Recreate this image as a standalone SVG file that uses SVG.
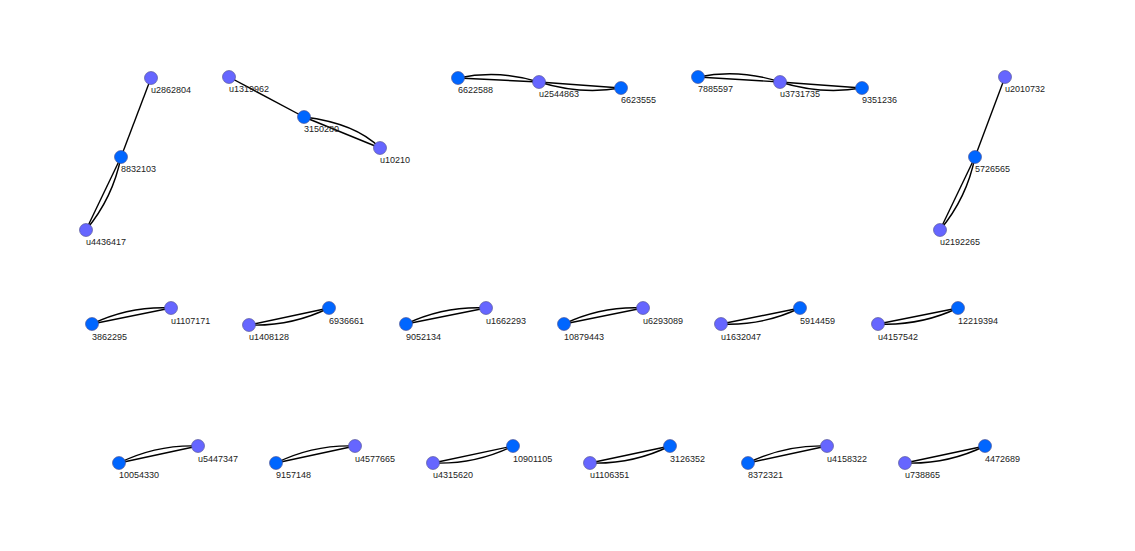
<svg xmlns="http://www.w3.org/2000/svg" width="1135" height="551" viewBox="0 0 1135 551">
<style>
.e{fill:none;stroke:#000;stroke-width:1.4}
.n{fill:#0066ff;stroke:#4a4a8a;stroke-width:0.6}
.u{fill:#6666ff;stroke:#4a4a8a;stroke-width:0.6}
text{font-family:"Liberation Sans",Arial,sans-serif;font-size:9px;fill:#222}
</style>
<rect width="1135" height="551" fill="#fff"/>
<g id="connectors">
<path class="e" d="M151,78 L121,157"/>
<path class="e" d="M121,157 L86,230"/>
<path class="e" d="M121,157 Q112.9,197.8 86,230"/>
<path class="e" d="M229,77 L304,117"/>
<path class="e" d="M304,117 L380,148"/>
<path class="e" d="M304,117 Q355.8,123.3 380,148"/>
<path class="e" d="M458,78 L539,82"/>
<path class="e" d="M458,78 Q499,69.5 539,82"/>
<path class="e" d="M539,82 L621,88"/>
<path class="e" d="M539,82 Q580.3,95 621,88"/>
<path class="e" d="M698,77 L780,82"/>
<path class="e" d="M698,77 Q739,68.5 780,82"/>
<path class="e" d="M780,82 L862,88"/>
<path class="e" d="M780,82 Q821.3,95 862,88"/>
<path class="e" d="M1005,77 L975,157"/>
<path class="e" d="M975,157 L940,230"/>
<path class="e" d="M975,157 Q966.9,197.8 940,230"/>
<path class="e" d="M92,324 L171,308"/>
<path class="e" d="M92,324 Q129.5,306 171,308"/>
<path class="e" d="M249,325 L329,308"/>
<path class="e" d="M329,308 Q291,326.5 249,325"/>
<path class="e" d="M406,324 L486,308"/>
<path class="e" d="M406,324 Q444,306 486,308"/>
<path class="e" d="M564,324 L643,308"/>
<path class="e" d="M564,324 Q601.5,306 643,308"/>
<path class="e" d="M721,324 L800,308"/>
<path class="e" d="M800,308 Q762.5,326 721,324"/>
<path class="e" d="M878,324 L958,308"/>
<path class="e" d="M958,308 Q920,326 878,324"/>
<path class="e" d="M119,463 L198,446"/>
<path class="e" d="M119,463 Q156.5,444.5 198,446"/>
<path class="e" d="M276,463 L355,446"/>
<path class="e" d="M276,463 Q313.5,444.5 355,446"/>
<path class="e" d="M433,463 L513,446"/>
<path class="e" d="M513,446 Q475,464.5 433,463"/>
<path class="e" d="M590,463 L670,446"/>
<path class="e" d="M670,446 Q632,464.5 590,463"/>
<path class="e" d="M748,463 L827,446"/>
<path class="e" d="M748,463 Q785.5,444.5 827,446"/>
<path class="e" d="M905,463 L985,446"/>
<path class="e" d="M985,446 Q947,464.5 905,463"/>
</g>
<g id="node-u2862804"><circle class="u" cx="151" cy="78" r="6.5"/><text x="151" y="93">u2862804</text></g>
<g id="node-8832103"><circle class="n" cx="121" cy="157" r="6.5"/><text x="121" y="172">8832103</text></g>
<g id="node-u4436417"><circle class="u" cx="86" cy="230" r="6.5"/><text x="86" y="245">u4436417</text></g>
<g id="node-u1319962"><circle class="u" cx="229" cy="77" r="6.5"/><text x="229" y="92">u1319962</text></g>
<g id="node-3150280"><circle class="n" cx="304" cy="117" r="6.5"/><text x="304" y="132">3150280</text></g>
<g id="node-u10210"><circle class="u" cx="380" cy="148" r="6.5"/><text x="380" y="163">u10210</text></g>
<g id="node-6622588"><circle class="n" cx="458" cy="78" r="6.5"/><text x="458" y="93">6622588</text></g>
<g id="node-u2544863"><circle class="u" cx="539" cy="82" r="6.5"/><text x="539" y="97">u2544863</text></g>
<g id="node-6623555"><circle class="n" cx="621" cy="88" r="6.5"/><text x="621" y="103">6623555</text></g>
<g id="node-7885597"><circle class="n" cx="698" cy="77" r="6.5"/><text x="698" y="92">7885597</text></g>
<g id="node-u3731735"><circle class="u" cx="780" cy="82" r="6.5"/><text x="780" y="97">u3731735</text></g>
<g id="node-9351236"><circle class="n" cx="862" cy="88" r="6.5"/><text x="862" y="103">9351236</text></g>
<g id="node-u2010732"><circle class="u" cx="1005" cy="77" r="6.5"/><text x="1005" y="92">u2010732</text></g>
<g id="node-5726565"><circle class="n" cx="975" cy="157" r="6.5"/><text x="975" y="172">5726565</text></g>
<g id="node-u2192265"><circle class="u" cx="940" cy="230" r="6.5"/><text x="940" y="245">u2192265</text></g>
<g id="node-3862295"><circle class="n" cx="92" cy="324" r="6.5"/><text x="92" y="340">3862295</text></g>
<g id="node-u1107171"><circle class="u" cx="171" cy="308" r="6.5"/><text x="171" y="324">u1107171</text></g>
<g id="node-u1408128"><circle class="u" cx="249" cy="325" r="6.5"/><text x="249" y="340">u1408128</text></g>
<g id="node-6936661"><circle class="n" cx="329" cy="308" r="6.5"/><text x="329" y="324">6936661</text></g>
<g id="node-9052134"><circle class="n" cx="406" cy="324" r="6.5"/><text x="406" y="340">9052134</text></g>
<g id="node-u1662293"><circle class="u" cx="486" cy="308" r="6.5"/><text x="486" y="324">u1662293</text></g>
<g id="node-10879443"><circle class="n" cx="564" cy="324" r="6.5"/><text x="564" y="340">10879443</text></g>
<g id="node-u6293089"><circle class="u" cx="643" cy="308" r="6.5"/><text x="643" y="324">u6293089</text></g>
<g id="node-u1632047"><circle class="u" cx="721" cy="324" r="6.5"/><text x="721" y="340">u1632047</text></g>
<g id="node-5914459"><circle class="n" cx="800" cy="308" r="6.5"/><text x="800" y="324">5914459</text></g>
<g id="node-u4157542"><circle class="u" cx="878" cy="324" r="6.5"/><text x="878" y="340">u4157542</text></g>
<g id="node-12219394"><circle class="n" cx="958" cy="308" r="6.5"/><text x="958" y="324">12219394</text></g>
<g id="node-10054330"><circle class="n" cx="119" cy="463" r="6.5"/><text x="119" y="478">10054330</text></g>
<g id="node-u5447347"><circle class="u" cx="198" cy="446" r="6.5"/><text x="198" y="462">u5447347</text></g>
<g id="node-9157148"><circle class="n" cx="276" cy="463" r="6.5"/><text x="276" y="478">9157148</text></g>
<g id="node-u4577665"><circle class="u" cx="355" cy="446" r="6.5"/><text x="355" y="462">u4577665</text></g>
<g id="node-u4315620"><circle class="u" cx="433" cy="463" r="6.5"/><text x="433" y="478">u4315620</text></g>
<g id="node-10901105"><circle class="n" cx="513" cy="446" r="6.5"/><text x="513" y="462">10901105</text></g>
<g id="node-u1106351"><circle class="u" cx="590" cy="463" r="6.5"/><text x="590" y="478">u1106351</text></g>
<g id="node-3126352"><circle class="n" cx="670" cy="446" r="6.5"/><text x="670" y="462">3126352</text></g>
<g id="node-8372321"><circle class="n" cx="748" cy="463" r="6.5"/><text x="748" y="478">8372321</text></g>
<g id="node-u4158322"><circle class="u" cx="827" cy="446" r="6.5"/><text x="827" y="462">u4158322</text></g>
<g id="node-u738865"><circle class="u" cx="905" cy="463" r="6.5"/><text x="905" y="478">u738865</text></g>
<g id="node-4472689"><circle class="n" cx="985" cy="446" r="6.5"/><text x="985" y="462">4472689</text></g>
</svg>
